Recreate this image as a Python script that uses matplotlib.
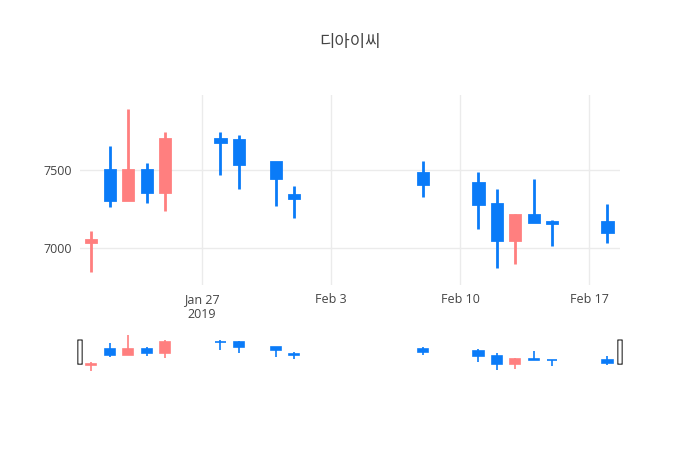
import matplotlib
matplotlib.use("Agg")
from matplotlib import pyplot as plt
from matplotlib.patches import FancyBboxPatch
import matplotlib.dates as mdates
import numpy as np
import datetime as dt

dates = ["2019-01-21", "2019-01-22", "2019-01-23", "2019-01-24", "2019-01-25",
         "2019-01-28", "2019-01-29", "2019-01-31", "2019-02-01", "2019-02-08",
         "2019-02-11", "2019-02-12", "2019-02-13", "2019-02-14", "2019-02-15",
         "2019-02-18"]
opens = [7040, 7500, 7310, 7500, 7360, 7700, 7690, 7550, 7340, 7480, 7420, 7280, 7050, 7210, 7170, 7170]
highs = [7109, 7654, 7891, 7545, 7744, 7744, 7724, 7550, 7400, 7560, 7490, 7380, 7220, 7440, 7180, 7280]
lows = [6846, 7263, 7310, 7290, 7240, 7470, 7380, 7270, 7190, 7330, 7120, 6870, 6900, 7170, 7010, 7030]
closes = [7050, 7310, 7500, 7360, 7700, 7680, 7540, 7450, 7320, 7410, 7280, 7050, 7210, 7170, 7160, 7100]

UP = "#ff7f7f"
DOWN = "#0a7bf8"

plt.rcParams['font.family'] = ['Open Sans', 'Noto Sans CJK KR', 'DejaVu Sans']

x = mdates.date2num([dt.datetime.strptime(d, "%Y-%m-%d") for d in dates])
xmin = mdates.date2num(dt.datetime(2019, 1, 27)) - 6.62
xmax = mdates.date2num(dt.datetime(2019, 1, 27)) + 22.68

fig = plt.figure(figsize=(7, 4.5), dpi=100)
ax = fig.add_axes([80/700, 1-285/450, 540/700, 190/450])
sl = fig.add_axes([80/700, 1-372/450, 540/700, 39/450])


def candles(a, lw):
    for xi, o, h, l, c in zip(x, opens, highs, lows, closes):
        col = UP if c >= o else DOWN
        a.plot([xi, xi], [l, h], color=col, lw=lw, solid_capstyle='butt', zorder=2)
        lo, hi = min(o, c), max(o, c)
        a.bar(xi, max(hi - lo, 1), bottom=lo, width=0.55, color=col,
              edgecolor=col, linewidth=lw, zorder=3)


candles(ax, 2)
ax.set_xlim(xmin, xmax)
ax.set_ylim(6763, 7981)
ax.set_yticks([7000, 7500])
ax.set_yticklabels(["7000", "7500"])
ticks = [dt.datetime(2019, 1, 27), dt.datetime(2019, 2, 3), dt.datetime(2019, 2, 10), dt.datetime(2019, 2, 17)]
ax.set_xticks(mdates.date2num(ticks))
ax.set_xticklabels(["Jan 27\n2019", "Feb 3", "Feb 10", "Feb 17"])
ax.grid(True, color="#ebebeb", lw=1)
ax.set_axisbelow(True)
for s in ax.spines.values():
    s.set_visible(False)
ax.tick_params(length=0, labelsize=9, colors="#444444", pad=6)

candles(sl, 1.2)
sl.set_xlim(xmin, xmax)
sl.set_ylim(min(lows) - 20, max(highs) + 60)
sl.axis("off")
for hx in [xmin, xmax]:
    sl.add_patch(FancyBboxPatch((hx - 0.12, 7050), 0.24, 700,
                                boxstyle="round,pad=0,rounding_size=0.1",
                                facecolor="white", edgecolor="#555555", lw=1,
                                zorder=5, clip_on=False))

fig.text(0.5, 1-43/450, "디아이씨", ha="center", va="center", fontsize=12,
         color="#444444", family=['Noto Sans CJK KR', 'DejaVu Sans'])

fig.savefig("out.png", dpi=100)
